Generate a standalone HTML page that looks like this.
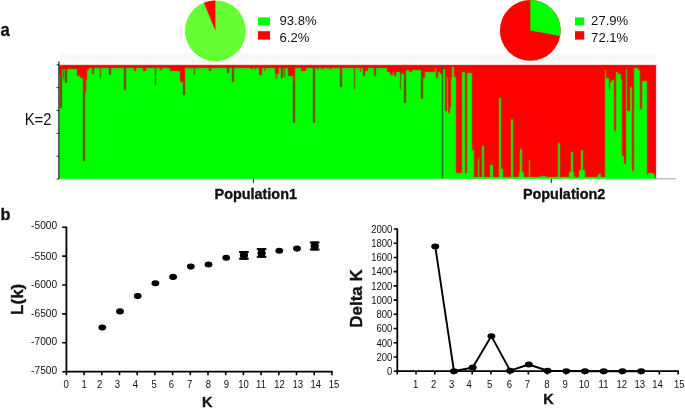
<!DOCTYPE html>
<html><head><meta charset="utf-8"><title>Figure</title>
<style>
html,body{margin:0;padding:0;background:#fff;}
body{width:685px;height:412px;overflow:hidden;}
svg{display:block;will-change:transform;font-family:"Liberation Sans",sans-serif;}
text{fill:#111;}
text[font-weight="bold"]{stroke:#111;stroke-width:0.35px;}
</style></head>
<body>
<svg width="685" height="412" viewBox="0 0 685 412">
<defs><filter id="bl" x="50" y="55" width="630" height="135" filterUnits="userSpaceOnUse" color-interpolation-filters="sRGB"><feConvolveMatrix order="3" kernelMatrix="1 4 1 4 16 4 1 4 1" divisor="36" edgeMode="duplicate"/></filter></defs>
<rect width="685" height="412" fill="#fff"/>
<rect x="60" y="53.5" width="596" height="10" fill="#f7f9f9"/>
<g shape-rendering="crispEdges" filter="url(#bl)">
<rect x="59.00" y="64.50" width="384.00" height="114.10" fill="#00ff00"/>
<rect x="59.50" y="67.50" width="2.50" height="40.50" fill="#843400"/>
<rect x="63.00" y="67.50" width="1.30" height="11.50" fill="#843400"/>
<rect x="65.20" y="67.50" width="1.50" height="15.50" fill="#843400"/>
<rect x="83.00" y="67.50" width="1.60" height="93.50" fill="#843400"/>
<rect x="91.80" y="67.50" width="1.80" height="6.30" fill="#843400"/>
<rect x="99.60" y="67.50" width="1.80" height="10.90" fill="#843400"/>
<rect x="108.80" y="67.50" width="2.00" height="7.80" fill="#843400"/>
<rect x="124.40" y="67.50" width="2.00" height="22.50" fill="#843400"/>
<rect x="154.60" y="67.50" width="1.80" height="17.50" fill="#843400"/>
<rect x="183.40" y="67.50" width="1.80" height="27.00" fill="#843400"/>
<rect x="193.60" y="67.50" width="1.60" height="7.50" fill="#843400"/>
<rect x="227.00" y="67.50" width="1.80" height="5.90" fill="#843400"/>
<rect x="232.40" y="67.50" width="2.00" height="14.10" fill="#843400"/>
<rect x="275.50" y="67.50" width="1.80" height="11.80" fill="#843400"/>
<rect x="281.00" y="67.50" width="1.80" height="10.00" fill="#843400"/>
<rect x="283.60" y="67.50" width="1.80" height="9.50" fill="#843400"/>
<rect x="287.50" y="67.50" width="1.80" height="8.80" fill="#843400"/>
<rect x="293.20" y="67.50" width="1.80" height="55.20" fill="#843400"/>
<rect x="312.60" y="67.50" width="2.00" height="55.20" fill="#843400"/>
<rect x="340.20" y="67.50" width="1.80" height="19.90" fill="#843400"/>
<rect x="353.60" y="67.50" width="1.80" height="21.10" fill="#843400"/>
<rect x="363.30" y="67.50" width="1.90" height="8.90" fill="#843400"/>
<rect x="374.40" y="67.50" width="1.80" height="8.90" fill="#843400"/>
<rect x="394.00" y="67.50" width="1.80" height="8.30" fill="#843400"/>
<rect x="399.50" y="67.50" width="1.80" height="21.10" fill="#843400"/>
<rect x="404.00" y="67.50" width="1.80" height="35.00" fill="#843400"/>
<rect x="420.80" y="67.50" width="2.20" height="31.90" fill="#843400"/>
<rect x="59.00" y="64.50" width="384.00" height="3.30" fill="#ff0000"/>
<rect x="59.00" y="64.50" width="3.00" height="10.50" fill="#ff0000"/>
<rect x="62.00" y="64.50" width="14.50" height="4.00" fill="#ff0000"/>
<rect x="76.50" y="64.50" width="3.50" height="11.50" fill="#ff0000"/>
<rect x="80.00" y="64.50" width="2.50" height="13.50" fill="#ff0000"/>
<rect x="82.50" y="64.50" width="3.00" height="28.00" fill="#ff0000"/>
<rect x="85.50" y="64.50" width="1.50" height="15.50" fill="#ff0000"/>
<rect x="87.00" y="64.50" width="1.50" height="5.50" fill="#ff0000"/>
<rect x="87.00" y="64.50" width="38.00" height="3.70" fill="#ff0000"/>
<rect x="126.40" y="64.50" width="43.60" height="3.30" fill="#ff0000"/>
<rect x="134.00" y="64.50" width="2.40" height="6.50" fill="#ff0000"/>
<rect x="143.40" y="64.50" width="2.30" height="6.50" fill="#ff0000"/>
<rect x="160.00" y="64.50" width="1.50" height="5.50" fill="#ff0000"/>
<rect x="170.20" y="64.50" width="9.80" height="6.50" fill="#ff0000"/>
<rect x="180.00" y="64.50" width="3.00" height="17.50" fill="#ff0000"/>
<rect x="183.00" y="64.50" width="2.40" height="20.50" fill="#ff0000"/>
<rect x="185.40" y="64.50" width="74.60" height="3.30" fill="#ff0000"/>
<rect x="189.50" y="64.50" width="1.70" height="4.80" fill="#ff0000"/>
<rect x="209.00" y="64.50" width="1.80" height="6.50" fill="#ff0000"/>
<rect x="251.00" y="64.50" width="2.40" height="4.80" fill="#ff0000"/>
<rect x="254.60" y="64.50" width="1.70" height="5.50" fill="#ff0000"/>
<rect x="258.70" y="64.50" width="3.50" height="10.70" fill="#ff0000"/>
<rect x="262.20" y="64.50" width="12.80" height="3.50" fill="#ff0000"/>
<rect x="264.00" y="64.50" width="1.00" height="6.50" fill="#ff0000"/>
<rect x="275.30" y="64.50" width="3.50" height="9.50" fill="#ff0000"/>
<rect x="278.80" y="64.50" width="10.50" height="3.70" fill="#ff0000"/>
<rect x="289.30" y="64.50" width="3.50" height="11.50" fill="#ff0000"/>
<rect x="292.80" y="64.50" width="2.30" height="18.90" fill="#ff0000"/>
<rect x="295.10" y="64.50" width="44.90" height="3.50" fill="#ff0000"/>
<rect x="301.00" y="64.50" width="5.20" height="6.00" fill="#ff0000"/>
<rect x="316.70" y="64.50" width="1.20" height="5.00" fill="#ff0000"/>
<rect x="322.00" y="64.50" width="1.00" height="5.50" fill="#ff0000"/>
<rect x="330.00" y="64.50" width="1.00" height="5.50" fill="#ff0000"/>
<rect x="339.50" y="64.50" width="2.90" height="9.50" fill="#ff0000"/>
<rect x="342.40" y="64.50" width="44.60" height="3.10" fill="#ff0000"/>
<rect x="359.60" y="64.50" width="1.80" height="7.20" fill="#ff0000"/>
<rect x="365.00" y="64.50" width="3.00" height="6.00" fill="#ff0000"/>
<rect x="387.00" y="64.50" width="13.00" height="7.50" fill="#ff0000"/>
<rect x="390.00" y="64.50" width="3.00" height="10.50" fill="#ff0000"/>
<rect x="401.30" y="64.50" width="4.40" height="9.50" fill="#ff0000"/>
<rect x="405.70" y="64.50" width="15.10" height="5.50" fill="#ff0000"/>
<rect x="409.00" y="64.50" width="3.00" height="7.00" fill="#ff0000"/>
<rect x="423.00" y="64.50" width="2.00" height="13.10" fill="#ff0000"/>
<rect x="425.00" y="64.50" width="9.70" height="7.50" fill="#ff0000"/>
<rect x="434.50" y="64.50" width="1.30" height="3.40" fill="#ff0000"/>
<rect x="435.80" y="64.50" width="1.80" height="13.70" fill="#ff0000"/>
<rect x="437.60" y="64.50" width="2.00" height="7.10" fill="#ff0000"/>
<rect x="439.60" y="64.50" width="2.60" height="9.30" fill="#ff0000"/>
<rect x="443.00" y="64.50" width="212.80" height="114.10" fill="#ff0000"/>
<rect x="443.30" y="68.70" width="1.30" height="109.90" fill="#00ff00"/>
<rect x="444.60" y="111.00" width="2.30" height="67.60" fill="#00ff00"/>
<rect x="446.90" y="76.50" width="1.20" height="102.10" fill="#00ff00"/>
<rect x="448.10" y="113.00" width="2.40" height="65.60" fill="#00ff00"/>
<rect x="450.50" y="77.50" width="1.50" height="101.10" fill="#00ff00"/>
<rect x="452.00" y="67.00" width="2.00" height="111.60" fill="#00ff00"/>
<rect x="454.00" y="77.00" width="1.60" height="101.60" fill="#00ff00"/>
<rect x="455.60" y="172.60" width="5.90" height="6.00" fill="#00ff00"/>
<rect x="461.50" y="71.60" width="3.50" height="107.00" fill="#00ff00"/>
<rect x="465.00" y="173.40" width="2.00" height="5.20" fill="#00ff00"/>
<rect x="467.00" y="73.00" width="5.00" height="105.60" fill="#00ff00"/>
<rect x="449.60" y="106.60" width="1.40" height="72.00" fill="#00ff00"/>
<rect x="472.00" y="150.00" width="2.00" height="28.60" fill="#00ff00"/>
<rect x="474.00" y="176.60" width="130.80" height="2.00" fill="#00ff00"/>
<rect x="569.00" y="172.30" width="4.50" height="6.30" fill="#00ff00"/>
<rect x="540.00" y="175.50" width="6.00" height="3.10" fill="#00ff00"/>
<rect x="477.80" y="158.00" width="1.60" height="20.60" fill="#00ff00"/>
<rect x="481.80" y="145.80" width="1.80" height="32.80" fill="#00ff00"/>
<rect x="489.70" y="164.80" width="3.70" height="13.80" fill="#00ff00"/>
<rect x="499.20" y="97.80" width="1.80" height="80.80" fill="#00ff00"/>
<rect x="501.00" y="169.00" width="2.00" height="9.60" fill="#00ff00"/>
<rect x="511.20" y="118.60" width="1.60" height="60.00" fill="#00ff00"/>
<rect x="518.80" y="172.00" width="5.20" height="6.60" fill="#00ff00"/>
<rect x="520.40" y="148.50" width="1.80" height="30.10" fill="#00ff00"/>
<rect x="528.70" y="159.70" width="1.50" height="18.90" fill="#00ff00"/>
<rect x="557.80" y="142.60" width="2.00" height="36.00" fill="#00ff00"/>
<rect x="571.20" y="151.50" width="1.80" height="27.10" fill="#00ff00"/>
<rect x="579.00" y="170.40" width="6.00" height="8.20" fill="#00ff00"/>
<rect x="580.80" y="150.00" width="1.80" height="28.60" fill="#00ff00"/>
<rect x="598.00" y="174.00" width="3.00" height="4.60" fill="#00ff00"/>
<rect x="604.80" y="69.80" width="1.50" height="108.80" fill="#00ff00"/>
<rect x="606.30" y="78.00" width="2.20" height="100.60" fill="#00ff00"/>
<rect x="608.50" y="88.60" width="1.50" height="90.00" fill="#00ff00"/>
<rect x="610.00" y="81.80" width="1.50" height="96.80" fill="#00ff00"/>
<rect x="611.50" y="79.60" width="2.30" height="99.00" fill="#00ff00"/>
<rect x="613.80" y="131.30" width="2.20" height="47.30" fill="#00ff00"/>
<rect x="616.00" y="72.00" width="2.30" height="106.60" fill="#00ff00"/>
<rect x="618.30" y="73.50" width="2.30" height="105.10" fill="#00ff00"/>
<rect x="620.60" y="79.60" width="1.40" height="99.00" fill="#00ff00"/>
<rect x="622.00" y="156.00" width="1.50" height="22.60" fill="#00ff00"/>
<rect x="623.50" y="164.40" width="2.30" height="14.20" fill="#00ff00"/>
<rect x="625.80" y="69.00" width="1.50" height="109.60" fill="#00ff00"/>
<rect x="627.30" y="111.00" width="2.30" height="67.60" fill="#00ff00"/>
<rect x="629.60" y="87.00" width="2.30" height="91.60" fill="#00ff00"/>
<rect x="631.90" y="171.00" width="2.20" height="7.60" fill="#00ff00"/>
<rect x="634.10" y="68.30" width="3.80" height="110.30" fill="#00ff00"/>
<rect x="637.90" y="69.80" width="2.20" height="108.80" fill="#00ff00"/>
<rect x="640.10" y="108.90" width="1.50" height="69.70" fill="#00ff00"/>
<rect x="641.60" y="80.50" width="4.90" height="98.10" fill="#00ff00"/>
<rect x="646.50" y="175.00" width="9.50" height="3.60" fill="#00ff00"/>
<rect x="648.00" y="173.00" width="6.00" height="5.60" fill="#00ff00"/>
<rect x="59.00" y="65.00" width="596.80" height="1.00" fill="#c00000"/>
<rect x="655.00" y="64.50" width="0.80" height="114.10" fill="#a00000"/>
<rect x="442.20" y="64.50" width="1.10" height="114.10" fill="#2a3a2a"/>
</g>
<circle cx="215.4" cy="30.8" r="30.4" fill="#66ff33"/>
<path d="M215.4 30.8 L203.86 2.67 A30.4 30.4 0 0 1 215.40 0.40 Z" fill="#ff0000"/>
<circle cx="530.3" cy="30.4" r="30.4" fill="#ff0000"/>
<path d="M530.3 30.4 L530.30 0.00 A30.4 30.4 0 0 1 560.20 35.89 Z" fill="#00ff00"/>
<rect x="258" y="17.4" width="12" height="8" fill="#00ff00"/><rect x="258" y="31.2" width="12" height="8.4" fill="#ff0000"/>
<rect x="575" y="17.4" width="9.2" height="8" fill="#00ff00"/><rect x="575" y="31.2" width="9.2" height="8.4" fill="#ff0000"/>
<text x="279.5" y="25.4" font-size="13.1">93.8%</text><text x="279.5" y="42.0" font-size="13.1">6.2%</text>
<text x="591.1" y="25.4" font-size="13.1">27.9%</text><text x="591.1" y="42.0" font-size="13.1">72.1%</text>
<path d="M58.9 61.5V179" stroke="#222" stroke-width="1.2"/>
<path d="M655.8 178.8H676" stroke="#aaa" stroke-width="1.1"/>
<path d="M56.6 64.80H58.9M56.6 87.65H58.9M56.6 110.50H58.9M56.6 133.35H58.9M56.6 156.20H58.9M56.6 179.05H58.9" stroke="#222" stroke-width="1"/>
<path d="M253.4 178.7V183M551.3 178.7V183" stroke="#222" stroke-width="1"/>
<text transform="translate(24.7 124.5) scale(0.95 1)" font-size="15.6">K=2</text>
<text x="255.8" y="198.7" font-size="14.4" font-weight="bold" text-anchor="middle">Population1</text>
<text x="564.1" y="198.7" font-size="14.4" font-weight="bold" text-anchor="middle">Population2</text>
<text transform="translate(0.5 35.6) scale(0.9 1)" font-size="18.5" font-weight="bold">a</text>
<text x="0.6" y="219.6" font-size="16.3" font-weight="bold">b</text>
<path d="M66.40 226.70 V371.70 H332.70" fill="none" stroke="#000" stroke-width="1.8"/>
<text transform="translate(57.10 229.30) scale(0.96 1)" font-size="10.6" text-anchor="end">-5000</text>
<text transform="translate(57.10 260.00) scale(0.96 1)" font-size="10.6" text-anchor="end">-5500</text>
<text transform="translate(57.10 287.90) scale(0.96 1)" font-size="10.6" text-anchor="end">-6000</text>
<text transform="translate(57.10 317.30) scale(0.96 1)" font-size="10.6" text-anchor="end">-6500</text>
<text transform="translate(57.10 344.90) scale(0.96 1)" font-size="10.6" text-anchor="end">-7000</text>
<text transform="translate(57.10 374.20) scale(0.96 1)" font-size="10.6" text-anchor="end">-7500</text>
<text transform="translate(66.20 388.00) scale(0.9 1)" font-size="10.6" text-anchor="middle">0</text>
<text transform="translate(84.10 388.00) scale(0.9 1)" font-size="10.6" text-anchor="middle">1</text>
<text transform="translate(99.60 388.00) scale(0.9 1)" font-size="10.6" text-anchor="middle">2</text>
<text transform="translate(117.40 388.00) scale(0.9 1)" font-size="10.6" text-anchor="middle">3</text>
<text transform="translate(135.30 388.00) scale(0.9 1)" font-size="10.6" text-anchor="middle">4</text>
<text transform="translate(154.10 388.00) scale(0.9 1)" font-size="10.6" text-anchor="middle">5</text>
<text transform="translate(171.40 388.00) scale(0.9 1)" font-size="10.6" text-anchor="middle">6</text>
<text transform="translate(189.70 388.00) scale(0.9 1)" font-size="10.6" text-anchor="middle">7</text>
<text transform="translate(208.50 388.00) scale(0.9 1)" font-size="10.6" text-anchor="middle">8</text>
<text transform="translate(226.40 388.00) scale(0.9 1)" font-size="10.6" text-anchor="middle">9</text>
<text transform="translate(243.60 388.00) scale(0.9 1)" font-size="10.6" text-anchor="middle">10</text>
<text transform="translate(261.00 388.00) scale(0.9 1)" font-size="10.6" text-anchor="middle">11</text>
<text transform="translate(279.50 388.00) scale(0.9 1)" font-size="10.6" text-anchor="middle">12</text>
<text transform="translate(297.70 388.00) scale(0.9 1)" font-size="10.6" text-anchor="middle">13</text>
<text transform="translate(315.70 388.00) scale(0.9 1)" font-size="10.6" text-anchor="middle">14</text>
<text transform="translate(334.00 388.00) scale(0.9 1)" font-size="10.6" text-anchor="middle">15</text>
<path d="M62.20 227.20H66.40M62.20 256.10H66.40M62.20 285.00H66.40M62.20 313.90H66.40M62.20 342.80H66.40M62.20 371.70H66.40M66.40 371.70V375.30M84.10 371.70V375.30M101.80 371.70V375.30M119.50 371.70V375.30M137.20 371.70V375.30M154.90 371.70V375.30M172.60 371.70V375.30M190.30 371.70V375.30M208.00 371.70V375.30M225.70 371.70V375.30M243.40 371.70V375.30M261.10 371.70V375.30M278.80 371.70V375.30M296.50 371.70V375.30M314.20 371.70V375.30M331.90 371.70V375.30" stroke="#000" stroke-width="1.6"/>
<ellipse cx="102.30" cy="327.50" rx="3.9" ry="3.05" fill="#000"/>
<ellipse cx="120.00" cy="311.40" rx="3.9" ry="3.05" fill="#000"/>
<ellipse cx="137.70" cy="296.10" rx="3.9" ry="3.05" fill="#000"/>
<ellipse cx="155.40" cy="283.20" rx="3.9" ry="3.05" fill="#000"/>
<ellipse cx="173.10" cy="276.90" rx="3.9" ry="3.05" fill="#000"/>
<ellipse cx="190.80" cy="266.60" rx="3.9" ry="3.05" fill="#000"/>
<ellipse cx="208.50" cy="264.50" rx="3.9" ry="3.05" fill="#000"/>
<ellipse cx="226.20" cy="257.80" rx="3.9" ry="3.05" fill="#000"/>
<ellipse cx="243.90" cy="255.40" rx="3.9" ry="3.05" fill="#000"/>
<ellipse cx="261.60" cy="253.00" rx="3.9" ry="3.05" fill="#000"/>
<ellipse cx="279.30" cy="250.80" rx="3.9" ry="3.05" fill="#000"/>
<ellipse cx="297.00" cy="248.60" rx="3.9" ry="3.05" fill="#000"/>
<ellipse cx="314.70" cy="246.00" rx="3.9" ry="3.05" fill="#000"/>
<path d="M239.10 252.00H248.70M239.10 258.70H248.70" stroke="#000" stroke-width="2"/>
<rect x="240.60" y="251.00" width="6.6" height="8.70" fill="#000"/>
<ellipse cx="243.90" cy="255.35" rx="4.1" ry="3.0" fill="#000"/>
<path d="M256.80 249.10H266.40M256.80 256.80H266.40" stroke="#000" stroke-width="2"/>
<rect x="258.30" y="248.10" width="6.6" height="9.70" fill="#000"/>
<ellipse cx="261.60" cy="252.95" rx="4.1" ry="3.0" fill="#000"/>
<path d="M309.90 242.50H319.50M309.90 249.50H319.50" stroke="#000" stroke-width="2"/>
<rect x="311.40" y="241.50" width="6.6" height="9.00" fill="#000"/>
<ellipse cx="314.70" cy="246.00" rx="4.1" ry="3.0" fill="#000"/>
<text x="207.20" y="406.60" font-size="14.5" text-anchor="middle" font-weight="bold" >K</text>
<text x="23.20" y="299.30" font-size="17" text-anchor="middle" font-weight="bold" transform="rotate(-90 23.2 299.3)">L(k)</text>
<path d="M397.30 228.50 V371.20 H678.90" fill="none" stroke="#000" stroke-width="1.8"/>
<text transform="translate(392.40 375.00) scale(0.9 1)" font-size="10.6" text-anchor="end">0</text>
<text transform="translate(392.40 360.78) scale(0.9 1)" font-size="10.6" text-anchor="end">200</text>
<text transform="translate(392.40 346.56) scale(0.9 1)" font-size="10.6" text-anchor="end">400</text>
<text transform="translate(392.40 332.34) scale(0.9 1)" font-size="10.6" text-anchor="end">600</text>
<text transform="translate(392.40 318.12) scale(0.9 1)" font-size="10.6" text-anchor="end">800</text>
<text transform="translate(392.40 303.90) scale(0.9 1)" font-size="10.6" text-anchor="end">1000</text>
<text transform="translate(392.40 289.68) scale(0.9 1)" font-size="10.6" text-anchor="end">1200</text>
<text transform="translate(392.40 275.46) scale(0.9 1)" font-size="10.6" text-anchor="end">1400</text>
<text transform="translate(392.40 261.24) scale(0.9 1)" font-size="10.6" text-anchor="end">1600</text>
<text transform="translate(392.40 247.02) scale(0.9 1)" font-size="10.6" text-anchor="end">1800</text>
<text transform="translate(392.40 232.80) scale(0.9 1)" font-size="10.6" text-anchor="end">2000</text>
<text transform="translate(415.60 387.80) scale(0.9 1)" font-size="10.6" text-anchor="middle">1</text>
<text transform="translate(433.70 387.80) scale(0.9 1)" font-size="10.6" text-anchor="middle">2</text>
<text transform="translate(451.70 387.80) scale(0.9 1)" font-size="10.6" text-anchor="middle">3</text>
<text transform="translate(469.20 387.80) scale(0.9 1)" font-size="10.6" text-anchor="middle">4</text>
<text transform="translate(489.70 387.80) scale(0.9 1)" font-size="10.6" text-anchor="middle">5</text>
<text transform="translate(509.50 387.80) scale(0.9 1)" font-size="10.6" text-anchor="middle">6</text>
<text transform="translate(527.50 387.80) scale(0.9 1)" font-size="10.6" text-anchor="middle">7</text>
<text transform="translate(546.80 387.80) scale(0.9 1)" font-size="10.6" text-anchor="middle">8</text>
<text transform="translate(565.20 387.80) scale(0.9 1)" font-size="10.6" text-anchor="middle">9</text>
<text transform="translate(584.00 387.80) scale(0.9 1)" font-size="10.6" text-anchor="middle">10</text>
<text transform="translate(603.50 387.80) scale(0.9 1)" font-size="10.6" text-anchor="middle">11</text>
<text transform="translate(621.80 387.80) scale(0.9 1)" font-size="10.6" text-anchor="middle">12</text>
<text transform="translate(639.80 387.80) scale(0.9 1)" font-size="10.6" text-anchor="middle">13</text>
<text transform="translate(657.60 387.80) scale(0.9 1)" font-size="10.6" text-anchor="middle">14</text>
<text transform="translate(679.30 387.80) scale(0.9 1)" font-size="10.6" text-anchor="middle">15</text>
<path d="M393.70 371.20H397.30M393.70 356.98H397.30M393.70 342.76H397.30M393.70 328.54H397.30M393.70 314.32H397.30M393.70 300.10H397.30M393.70 285.88H397.30M393.70 271.66H397.30M393.70 257.44H397.30M393.70 243.22H397.30M393.70 229.00H397.30M397.30 371.20V374.60M416.02 371.20V374.60M434.74 371.20V374.60M453.46 371.20V374.60M472.18 371.20V374.60M490.90 371.20V374.60M509.62 371.20V374.60M528.34 371.20V374.60M547.06 371.20V374.60M565.78 371.20V374.60M584.50 371.20V374.60M603.22 371.20V374.60M621.94 371.20V374.60M640.66 371.20V374.60M659.38 371.20V374.60M678.10 371.20V374.60" stroke="#000" stroke-width="1.6"/>
<polyline points="435.24,246.42 453.96,371.20 472.68,367.50 491.40,336.08 510.12,370.63 528.84,364.52 547.56,370.77 566.28,371.06 585.00,371.20 603.72,371.20 622.44,371.20 641.16,371.20" fill="none" stroke="#000" stroke-width="1.9" stroke-linejoin="round"/>
<ellipse cx="435.24" cy="246.42" rx="4.0" ry="2.9" fill="#000"/>
<ellipse cx="453.96" cy="371.20" rx="4.0" ry="2.9" fill="#000"/>
<ellipse cx="472.68" cy="367.50" rx="4.0" ry="2.9" fill="#000"/>
<ellipse cx="491.40" cy="336.08" rx="4.0" ry="2.9" fill="#000"/>
<ellipse cx="510.12" cy="370.63" rx="4.0" ry="2.9" fill="#000"/>
<ellipse cx="528.84" cy="364.52" rx="4.0" ry="2.9" fill="#000"/>
<ellipse cx="547.56" cy="370.77" rx="4.0" ry="2.9" fill="#000"/>
<ellipse cx="566.28" cy="371.06" rx="4.0" ry="2.9" fill="#000"/>
<ellipse cx="585.00" cy="371.20" rx="4.0" ry="2.9" fill="#000"/>
<ellipse cx="603.72" cy="371.20" rx="4.0" ry="2.9" fill="#000"/>
<ellipse cx="622.44" cy="371.20" rx="4.0" ry="2.9" fill="#000"/>
<ellipse cx="641.16" cy="371.20" rx="4.0" ry="2.9" fill="#000"/>
<text x="548.40" y="403.50" font-size="14.5" text-anchor="middle" font-weight="bold" >K</text>
<text x="362.30" y="298.50" font-size="17" text-anchor="middle" font-weight="bold" transform="rotate(-90 362.3 298.5)">Delta K</text>
<path d="M346.8 269.8V277.5" stroke="#bbb" stroke-width="0.8" stroke-dasharray="1 1"/>
</svg>
</body></html>
